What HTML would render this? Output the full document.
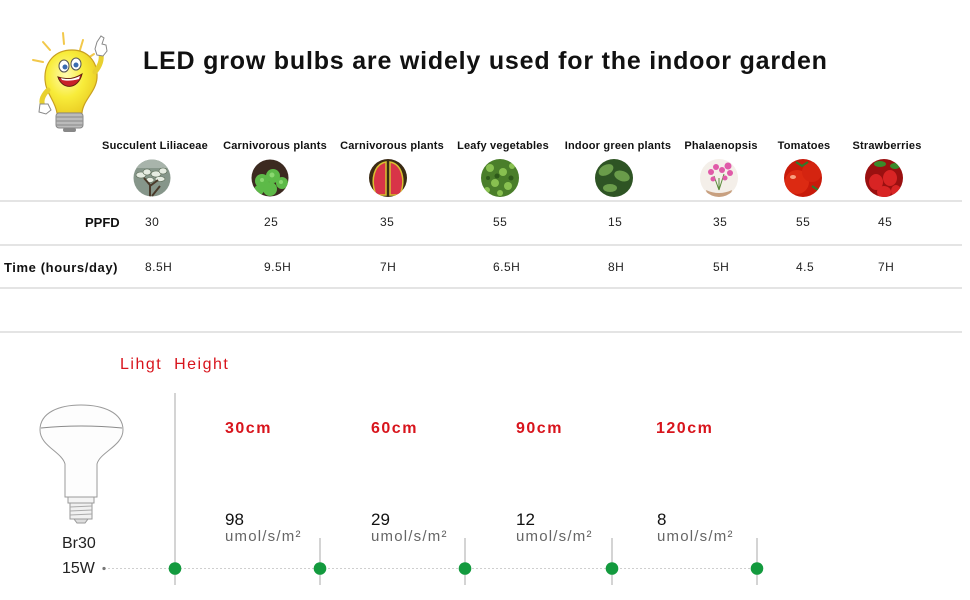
<!DOCTYPE html>
<html><head><meta charset="utf-8">
<style>
html,body{margin:0;padding:0;background:#fff;}
#c{position:relative;width:970px;height:600px;overflow:hidden;background:#fff;font-family:"Liberation Sans",Arial,sans-serif;}
.t{position:absolute;white-space:nowrap;line-height:1;}
.h{font-weight:bold;font-size:11px;color:#111;width:140px;text-align:center;top:141px;letter-spacing:0.2px;}
.v{font-size:12px;color:#222;letter-spacing:0.5px;}
.r1{top:216px;}
.r2{top:261px;}
.hl{position:absolute;left:0;width:962px;height:2px;background:#e4e4e4;}
.cm{font-weight:bold;font-size:16px;color:#d8141c;letter-spacing:1.5px;top:421px;}
.num{font-size:17px;color:#111;top:511px;}
.u{font-size:15px;color:#666;letter-spacing:1.2px;top:529px;}
</style></head><body>
<div id="c">
<svg width="970" height="600" style="position:absolute;left:0;top:0" xmlns="http://www.w3.org/2000/svg">
<defs>
<clipPath id="k1"><circle cx="152" cy="178" r="18.5"/></clipPath>
<clipPath id="k2"><circle cx="270" cy="178" r="18.5"/></clipPath>
<clipPath id="k3"><circle cx="388" cy="178" r="19"/></clipPath>
<clipPath id="k4"><circle cx="500" cy="178" r="19"/></clipPath>
<clipPath id="k5"><circle cx="614" cy="178" r="19"/></clipPath>
<clipPath id="k6"><circle cx="719" cy="178" r="19"/></clipPath>
<clipPath id="k7"><circle cx="803" cy="178" r="19"/></clipPath>
<clipPath id="k8"><circle cx="884" cy="178" r="19"/></clipPath>
<radialGradient id="gy" cx="0.4" cy="0.4" r="0.7"><stop offset="0" stop-color="#fffbb0"/><stop offset="0.5" stop-color="#f8ec3a"/><stop offset="1" stop-color="#e8c820"/></radialGradient>
</defs>

<!-- cartoon bulb -->
<g stroke-linecap="round">
<g stroke="#f2c84a" stroke-width="2">
<line x1="63" y1="33" x2="64" y2="44"/>
<line x1="43" y1="42" x2="50" y2="50"/>
<line x1="33" y1="60" x2="43" y2="62"/>
<line x1="83" y1="40" x2="80" y2="50"/>
<line x1="94" y1="54" x2="88" y2="58"/>
</g>
<path d="M72,50 C55,50 44,62 45,80 C46,94 55,100 57,113 L82,113 C83,100 96,92 97,78 C98,62 88,50 72,50 Z" fill="url(#gy)" stroke="#c9a020" stroke-width="1.2"/>
<path d="M95,72 C100,66 102,60 101,54" fill="none" stroke="#e8d030" stroke-width="5"/>
<path d="M97,42 l4,-6 l3,2 l-2,6 l4,1 l1,6 l-4,5 l-6,-1 l-2,-6 z" fill="#fff" stroke="#888" stroke-width="1"/>
<path d="M48,90 C42,96 40,102 44,108" fill="none" stroke="#e8d030" stroke-width="5"/>
<path d="M40,104 l8,0 l3,6 l-5,4 l-7,-2 z" fill="#fff" stroke="#888" stroke-width="1"/>
<rect x="56" y="113" width="27" height="15" rx="3" fill="#bbb" stroke="#888" stroke-width="1"/>
<line x1="57" y1="117" x2="82" y2="117" stroke="#888"/>
<line x1="57" y1="121" x2="82" y2="121" stroke="#888"/>
<line x1="57" y1="125" x2="82" y2="125" stroke="#888"/>
<rect x="63" y="128" width="13" height="4" rx="2" fill="#888"/>
<ellipse cx="64" cy="66" rx="5" ry="6" fill="#fff" stroke="#555" stroke-width="1"/>
<ellipse cx="76" cy="64" rx="5" ry="6" fill="#fff" stroke="#555" stroke-width="1"/>
<circle cx="65" cy="67" r="2.5" fill="#3a6ab0"/>
<circle cx="76" cy="65" r="2.5" fill="#3a6ab0"/>
<path d="M58,77 C62,90 78,90 82,74 C74,79 66,80 58,77 Z" fill="#c8202a" stroke="#602010" stroke-width="1"/>
<path d="M61,78 C68,80 74,79 80,76 L79,79 C72,81 67,81 62,80 Z" fill="#fff"/>
</g>

<!-- plant images -->
<g clip-path="url(#k1)">
<rect x="130" y="156" width="45" height="45" fill="#86968a"/>
<rect x="130" y="156" width="45" height="12" fill="#a8b4ab"/>
<g fill="#e6ece2" stroke="#5a6a55" stroke-width="0.6">
<ellipse cx="141" cy="175" rx="5" ry="3"/><ellipse cx="147" cy="172" rx="4" ry="3"/>
<ellipse cx="156" cy="174" rx="5" ry="3"/><ellipse cx="163" cy="171" rx="4" ry="3"/>
<ellipse cx="150" cy="180" rx="4" ry="2.5"/><ellipse cx="160" cy="179" rx="5" ry="2.5"/>
</g>
<path d="M150,200 L150,185 L144,178 M150,186 L158,180 M152,196 L160,186" stroke="#4a3a2a" stroke-width="2" fill="none"/>
</g>
<g clip-path="url(#k2)">
<rect x="250" y="158" width="40" height="40" fill="#3c2a20"/>
<g fill="#5dba48"><circle cx="262" cy="181" r="7"/><circle cx="273" cy="176" r="7"/><circle cx="282" cy="183" r="6"/><circle cx="270" cy="189" r="7"/><circle cx="259" cy="190" r="5"/></g>
<g fill="#8ad870"><circle cx="272" cy="175" r="2.5"/><circle cx="262" cy="180" r="2"/><circle cx="281" cy="182" r="2"/></g>
</g>
<g clip-path="url(#k3)">
<rect x="368" y="158" width="40" height="40" fill="#3a2a14"/>
<path d="M386,162 C374,164 370,180 376,195 L386,195 Z" fill="#d83448" stroke="#d8c030" stroke-width="1.5"/>
<path d="M390,162 C402,164 406,180 400,195 L390,195 Z" fill="#d83448" stroke="#d8c030" stroke-width="1.5"/>
</g>
<g clip-path="url(#k4)">
<rect x="480" y="158" width="40" height="40" fill="#4a7e2a"/>
<g fill="#88c050"><circle cx="490" cy="168" r="4"/><circle cx="503" cy="172" r="4"/><circle cx="512" cy="166" r="3"/><circle cx="495" cy="183" r="4"/><circle cx="508" cy="186" r="4"/><circle cx="487" cy="190" r="3"/><circle cx="500" cy="193" r="3"/></g>
<g fill="#2e5a1a"><circle cx="497" cy="176" r="2.5"/><circle cx="511" cy="178" r="2.5"/><circle cx="488" cy="178" r="2"/></g>
</g>
<g clip-path="url(#k5)">
<rect x="594" y="158" width="40" height="40" fill="#2e5424"/>
<g fill="#6a9c4a"><ellipse cx="606" cy="170" rx="8" ry="5" transform="rotate(-30 606 170)"/><ellipse cx="622" cy="176" rx="8" ry="5" transform="rotate(20 622 176)"/><ellipse cx="610" cy="188" rx="7" ry="4"/></g>
</g>
<g clip-path="url(#k6)">
<rect x="699" y="158" width="40" height="40" fill="#f4efe9"/>
<path d="M706,190 Q719,196 732,190 L730,198 L708,198 Z" fill="#c8a080"/>
<path d="M719,190 L714,176 M719,190 L724,174 M719,190 L719,178" stroke="#5a8a3a" stroke-width="1"/>
<g fill="#e05aa8"><circle cx="711" cy="172" r="3"/><circle cx="716" cy="167" r="3"/><circle cx="722" cy="170" r="3"/><circle cx="728" cy="166" r="3.5"/><circle cx="730" cy="173" r="3"/><circle cx="713" cy="179" r="2.5"/><circle cx="725" cy="178" r="2.5"/></g>
</g>
<g clip-path="url(#k7)">
<rect x="783" y="158" width="40" height="40" fill="#c81a0a"/>
<circle cx="797" cy="182" r="12" fill="#dc2a12"/>
<circle cx="812" cy="172" r="10" fill="#d42410"/>
<ellipse cx="793" cy="177" rx="3" ry="2" fill="#f8a080"/>
<path d="M796,162 l6,4 l6,-4 M812,186 l6,4" stroke="#2e7a2a" stroke-width="2" fill="none"/>
</g>
<g clip-path="url(#k8)">
<rect x="864" y="158" width="40" height="40" fill="#9a1010"/>
<g fill="#d82424"><ellipse cx="876" cy="182" rx="7" ry="8"/><ellipse cx="890" cy="178" rx="7" ry="8"/><ellipse cx="884" cy="192" rx="7" ry="6"/><ellipse cx="896" cy="191" rx="5" ry="6"/></g>
<g fill="#3a8a2a"><ellipse cx="880" cy="164" rx="6" ry="3"/><ellipse cx="895" cy="166" rx="5" ry="3"/></g>
</g>

<!-- BR30 bulb -->
<path d="M40,430 C40,412 60,405 81,405 C102,405 123,412 123,430 C123,446 100,452 97,464 L97,497 L65,497 L65,464 C62,452 40,446 40,430 Z" fill="#fdfdfd" stroke="#9a9a9a" stroke-width="1"/>
<path d="M41,428 Q81,424 122,428" fill="none" stroke="#8a8a8a" stroke-width="1"/>
<rect x="68" y="497" width="26" height="6" fill="#f4f4f4" stroke="#9a9a9a" stroke-width="1"/>
<rect x="70" y="503" width="22" height="16" fill="#f0f0f0" stroke="#9a9a9a" stroke-width="1"/>
<g stroke="#aaa" stroke-width="1"><line x1="70" y1="507" x2="92" y2="506"/><line x1="70" y1="511" x2="92" y2="510"/><line x1="70" y1="515" x2="92" y2="514"/></g>
<path d="M74,519 L88,519 L85,523 L77,523 Z" fill="#ddd" stroke="#9a9a9a" stroke-width="1"/>

<!-- timeline -->
<line x1="175" y1="393" x2="175" y2="585" stroke="#a8a8a8" stroke-width="1"/>
<line x1="104" y1="568.5" x2="762" y2="568.5" stroke="#cfcfcf" stroke-width="1" stroke-dasharray="2,2"/>
<circle cx="104" cy="568.5" r="1.6" fill="#777"/>
<g stroke="#a8a8a8" stroke-width="1">
<line x1="320" y1="538" x2="320" y2="585"/>
<line x1="465" y1="538" x2="465" y2="585"/>
<line x1="612" y1="538" x2="612" y2="585"/>
<line x1="757" y1="538" x2="757" y2="585"/>
</g>
<g fill="#139a3e">
<circle cx="175" cy="568.5" r="6.3"/>
<circle cx="320" cy="568.5" r="6.3"/>
<circle cx="465" cy="568.5" r="6.3"/>
<circle cx="612" cy="568.5" r="6.3"/>
<circle cx="757" cy="568.5" r="6.3"/>
</g>
</svg>

<div class="t" style="left:143px;top:49px;font-size:25px;font-weight:bold;color:#111;letter-spacing:0.8px;">LED grow bulbs are widely used for the indoor garden</div>

<div class="t h" style="left:85px;">Succulent Liliaceae</div>
<div class="t h" style="left:205px;">Carnivorous plants</div>
<div class="t h" style="left:322px;">Carnivorous plants</div>
<div class="t h" style="left:433px;">Leafy vegetables</div>
<div class="t h" style="left:548px;">Indoor green plants</div>
<div class="t h" style="left:651px;">Phalaenopsis</div>
<div class="t h" style="left:734px;">Tomatoes</div>
<div class="t h" style="left:817px;">Strawberries</div>

<div class="hl" style="top:200px;"></div>
<div class="hl" style="top:244px;"></div>
<div class="hl" style="top:287px;"></div>
<div class="hl" style="top:331px;"></div>

<div class="t" style="left:85px;top:216px;font-size:13px;font-weight:bold;color:#111;">PPFD</div>
<div class="t" style="left:4px;top:261px;font-size:13px;font-weight:bold;color:#111;letter-spacing:0.6px;">Time (hours/day)</div>

<div class="t v r1" style="left:145px;">30</div>
<div class="t v r1" style="left:264px;">25</div>
<div class="t v r1" style="left:380px;">35</div>
<div class="t v r1" style="left:493px;">55</div>
<div class="t v r1" style="left:608px;">15</div>
<div class="t v r1" style="left:713px;">35</div>
<div class="t v r1" style="left:796px;">55</div>
<div class="t v r1" style="left:878px;">45</div>

<div class="t v r2" style="left:145px;">8.5H</div>
<div class="t v r2" style="left:264px;">9.5H</div>
<div class="t v r2" style="left:380px;">7H</div>
<div class="t v r2" style="left:493px;">6.5H</div>
<div class="t v r2" style="left:608px;">8H</div>
<div class="t v r2" style="left:713px;">5H</div>
<div class="t v r2" style="left:796px;">4.5</div>
<div class="t v r2" style="left:878px;">7H</div>

<div class="t" style="left:120px;top:357px;font-size:16px;color:#d8141c;letter-spacing:1.5px;">Lihgt&nbsp; Height</div>

<div class="t cm" style="left:225px;">30cm</div>
<div class="t cm" style="left:371px;">60cm</div>
<div class="t cm" style="left:516px;">90cm</div>
<div class="t cm" style="left:656px;">120cm</div>

<div class="t num" style="left:225px;">98</div>
<div class="t num" style="left:371px;">29</div>
<div class="t num" style="left:516px;">12</div>
<div class="t num" style="left:657px;">8</div>

<div class="t u" style="left:225px;">umol/s/m²</div>
<div class="t u" style="left:371px;">umol/s/m²</div>
<div class="t u" style="left:516px;">umol/s/m²</div>
<div class="t u" style="left:657px;">umol/s/m²</div>

<div class="t" style="left:62px;top:536px;font-size:16px;color:#222;">Br30</div>
<div class="t" style="left:62px;top:561px;font-size:16px;color:#222;">15W</div>
</div>
</body></html>
